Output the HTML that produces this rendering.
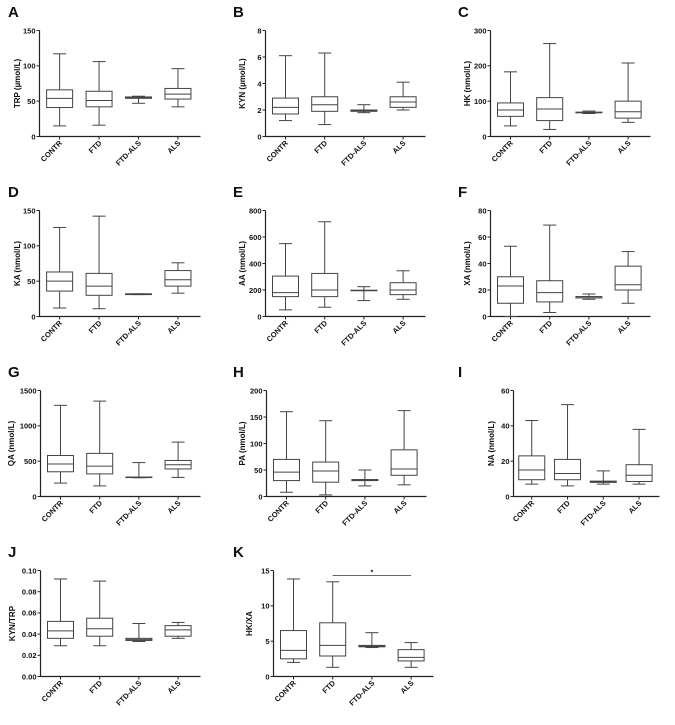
<!DOCTYPE html>
<html><head><meta charset="utf-8"><style>
body{margin:0;background:#fff;}
svg text{font-family:"Liberation Sans",sans-serif;font-weight:bold;fill:#111;}
</style></head><body>
<svg id="chart" width="675" height="720" viewBox="0 0 675 720" xmlns="http://www.w3.org/2000/svg"></svg>
<script>
const categories = ["CONTR","FTD","FTD-ALS","ALS"];
const panelLetters = ["A","B","C","D","E","F","G","H","I","J","K"];
const yTitles = ["TRP (µmol/L)","KYN (µmol/L)","HK (nmol/L)","KA (nmol/L)","AA (nmol/L)","XA (nmol/L)","QA (nmol/L)","PA (nmol/L)","NA (nmol/L)","KYN/TRP","HK/XA"];
const yTicksA = [0,50,100,150];
const yTicksB = [0,2,4,6,8];
const yTicksC = [0,100,200,300];
const yTicksD = [0,50,100,150];
const yTicksE = [0,200,400,600,800];
const yTicksF = [0,20,40,60,80];
const yTicksG = [0,500,1000,1500];
const yTicksH = [0,50,100,150,200];
const yTicksI = [0,20,40,60];
const yTicksJ = [0,0.02,0.04,0.06,0.08,0.10];
const yTicksK = [0,5,10,15];
// each: [min, q1, median, q3, max] per category
const statsA = [[15,41,54,66,117],[16,42,51,64,106],[47,54,55,56,57],[42,53,60,68,96]];
const statsB = [[1.2,1.7,2.2,2.9,6.1],[0.9,1.9,2.4,3.0,6.3],[1.8,1.9,1.95,2.0,2.4],[2.0,2.2,2.6,3.0,4.1]];
const statsC = [[30,57,75,95,183],[20,45,78,110,263],[65,67,68,69,72],[40,52,70,100,208]];
const statsD = [[12,36,50,63,126],[11,30,43,61,142],[31,31,32,32,32],[33,43,52,65,76]];
const statsE = [[50,150,180,305,550],[70,150,200,325,715],[120,195,197,198,225],[130,165,200,255,345]];
const statsF = [[0,10,23,30,53],[3,11,18,27,69],[13,14,15,15,17],[10,20,24,38,49]];
const statsG = [[190,350,460,580,1290],[150,320,430,610,1350],[265,270,272,275,480],[270,390,450,510,770]];
const statsH = [[8,30,46,70,160],[3,27,48,65,143],[20,30,31,32,50],[22,40,52,88,162]];
const statsI = [[7,9.5,15,23,43],[6,9.5,13,21,52],[7,8,8.3,8.7,14.5],[7,8.5,12,18,38]];
const statsJ = [[0.029,0.036,0.043,0.052,0.092],[0.029,0.038,0.045,0.055,0.090],[0.033,0.034,0.035,0.036,0.050],[0.036,0.038,0.044,0.048,0.051]];
const statsK = [[2.0,2.5,3.7,6.5,13.8],[1.3,2.9,4.4,7.6,13.4],[4.1,4.2,4.3,4.4,6.2],[1.3,2.2,2.7,3.8,4.8]];
const sigK = {from:1,to:3,y:14.3,label:"*"};

const tickSets=[yTicksA,yTicksB,yTicksC,yTicksD,yTicksE,yTicksF,yTicksG,yTicksH,yTicksI,yTicksJ,yTicksK];
const statSets=[statsA,statsB,statsC,statsD,statsE,statsF,statsG,statsH,statsI,statsJ,statsK];
const axisX=[39,40,40,39,40,40,40,41,63,40,48];
const axisW=[161,160,160,161,160,160,160,160,146,160,160];
const titleX=[20,20,20,20,20,20,14,20,44,15,27];
const NS="http://www.w3.org/2000/svg";
const svg=document.getElementById('chart');
function mk(tag,attrs,parent,txt){const e=document.createElementNS(NS,tag);for(const k in attrs)e.setAttribute(k,attrs[k]);if(txt!==undefined)e.textContent=txt;parent.appendChild(e);return e;}
function fmt(v,ticks){return ticks[ticks.length-1]<1?v.toFixed(2):String(v);}
for(let p=0;p<11;p++){
  const ox=(p%3)*225, oy=Math.floor(p/3)*180;
  const g=mk('g',{transform:`translate(${ox},${oy})`},svg);
  
  
  const ticks=tickSets[p], st=statSets[p];
  const ymax=ticks[ticks.length-1];
  const top=30.5,bot=136.5;
  const ys=v=>bot-(v/ymax)*(bot-top);
  const ax=axisX[p]+0.5, w=axisW[p];
  const xs=i=>ax+w*(0.125+0.245*i);
  const L=mk('text',{x:8,y:17,'font-size':15},g,panelLetters[p]);
  
  
  const yl=mk('line',{x1:ax,y1:top,x2:ax,y2:bot,stroke:'#222','stroke-width':1.2},g);
  
  
  const xl=mk('line',{x1:ax,y1:bot,x2:ax+w,y2:bot,stroke:'#222','stroke-width':1.2},g);
  
  
  ticks.forEach(t=>{
    const y=ys(t);
    mk('line',{x1:ax-3,y1:y,x2:ax,y2:y,stroke:'#222','stroke-width':1},g);
    const tl=mk('text',{x:ax-4,y:y+2.8,'font-size':7.5,'text-anchor':'end'},g,fmt(t,ticks));
    
    
  });
  const yt=mk('text',{transform:`translate(${titleX[p]},${(top+bot)/2}) rotate(-90)`,'font-size':8,'text-anchor':'middle'},g,yTitles[p]);
  
  
  categories.forEach((c,i)=>{
    const x=xs(i);
    mk('line',{x1:x,y1:bot,x2:x,y2:bot+3,stroke:'#222','stroke-width':1},g);
    const cl=mk('text',{transform:`translate(${x+3},${bot+7}) rotate(-45)`,'font-size':7.5,'text-anchor':'end'},g,c);
    
    
    const s=st[i], bw=26, cw=13;
    const bx=mk('g',{stroke:'#444','stroke-width':1,fill:'none'},g);
    
    
    mk('line',{x1:x,y1:ys(s[0]),x2:x,y2:ys(s[1])},bx);
    mk('line',{x1:x,y1:ys(s[3]),x2:x,y2:ys(s[4])},bx);
    mk('line',{x1:x-cw/2,y1:ys(s[0]),x2:x+cw/2,y2:ys(s[0])},bx);
    mk('line',{x1:x-cw/2,y1:ys(s[4]),x2:x+cw/2,y2:ys(s[4])},bx);
    mk('rect',{x:x-bw/2,y:ys(s[3]),width:bw,height:Math.max(0.5,ys(s[1])-ys(s[3])),fill:'#fff'},bx);
    mk('line',{x1:x-bw/2,y1:ys(s[2]),x2:x+bw/2,y2:ys(s[2])},bx);
  });
  if(p===10){
    const sg=mk('g',{},g);
    
    
    mk('line',{x1:xs(sigK.from),y1:ys(sigK.y),x2:xs(sigK.to),y2:ys(sigK.y),stroke:'#666','stroke-width':1},sg);
    mk('text',{x:(xs(sigK.from)+xs(sigK.to))/2,y:ys(sigK.y)-1,'font-size':7,'text-anchor':'middle'},sg,sigK.label);
  }
}
</script>
</body></html>
